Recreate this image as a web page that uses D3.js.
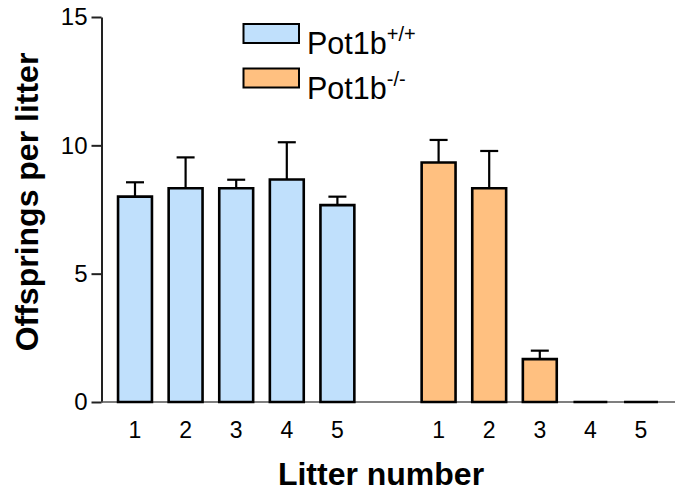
<!DOCTYPE html>
<html>
<head>
<meta charset="utf-8">
<script src="https://cdn.jsdelivr.net/npm/d3@7"></script>
<style>
  body { margin: 0; background: #fff; }
  svg { font-family: "Liberation Sans", Arial, sans-serif; }
</style>
</head>
<body>
<svg width="675" height="495"></svg>
<script>
// litter numbers and group means / SEM (upper error only)
const litters = ["1", "2", "3", "4", "5"];
const wtMean = [8.0, 8.33, 8.33, 8.67, 7.67];
const wtErr = [0.56, 1.2, 0.33, 1.45, 0.33];
const koMean = [9.33, 8.33, 1.67, 0, 0];
const koErr = [0.88, 1.45, 0.33, 0, 0];
const yTicks = [0, 5, 10, 15];
const groups = ["Pot1b", "Pot1b"];
const groupSup = ["+/+", "-/-"];
const colors = ["#c0e0fc", "#ffc080"];

const svg = d3.select("svg");

// one band per bar, with an empty slot between the two genotypes
const slots = [];
litters.forEach((l, i) => slots.push({ key: "wt" + l, label: l, v: wtMean[i], e: wtErr[i], g: 0 }));
slots.push({ key: "gap", label: "", v: null, e: 0, g: -1 });
litters.forEach((l, i) => slots.push({ key: "ko" + l, label: l, v: koMean[i], e: koErr[i], g: 1 }));

const x = d3.scaleBand()
  .domain(slots.map(d => d.key))
  .range([109.7, 666.3])
  .paddingInner(0.33)
  .paddingOuter(0.165);

const y = d3.scaleLinear().domain([0, 15]).range([402, 17]);

const axisX = 101.5;

// y axis
svg.append("g")
  .attr("transform", `translate(${axisX},0)`)
  .call(d3.axisLeft(y).tickValues(yTicks).tickSize(10).tickSizeOuter(0).tickPadding(4))
  .call(g => g.select(".domain").attr("stroke", "#222").attr("stroke-width", 2))
  .call(g => g.selectAll(".tick line").attr("stroke", "#222").attr("stroke-width", 2))
  .call(g => g.selectAll("text").style("font-size", "24px").attr("fill", "#000")
    .style("font-family", "Liberation Sans, Arial, sans-serif"));

// x labels
svg.append("g")
  .attr("transform", `translate(0,${y(0)})`)
  .call(d3.axisBottom(x).tickSize(0).tickPadding(19.5).tickFormat(k => slots.find(s => s.key === k).label))
  .call(g => g.select(".domain").remove())
  .call(g => g.selectAll("text").style("font-size", "23px").attr("fill", "#000")
    .style("font-family", "Liberation Sans, Arial, sans-serif"));

// baseline
svg.append("line")
  .attr("x1", axisX).attr("x2", 675)
  .attr("y1", y(0)).attr("y2", y(0))
  .attr("stroke", "#555").attr("stroke-width", 1.6);

const bars = slots.filter(d => d.v !== null);

// error bars (upper only)
const eb = svg.append("g").attr("stroke", "#000").attr("stroke-width", 2.2).attr("fill", "none");
bars.filter(d => d.e > 0).forEach(d => {
  const cx = x(d.key) + x.bandwidth() / 2;
  eb.append("line").attr("x1", cx).attr("x2", cx).attr("y1", y(d.v)).attr("y2", y(d.v + d.e));
  eb.append("line").attr("x1", cx - 9).attr("x2", cx + 9).attr("y1", y(d.v + d.e)).attr("y2", y(d.v + d.e));
});

// bars as paths so zero-height bars still show a line
svg.append("g")
  .selectAll("path")
  .data(bars)
  .join("path")
    .attr("d", d => {
      const x0 = x(d.key), x1 = x0 + x.bandwidth();
      return `M${x0},${y(0)}V${y(d.v)}H${x1}V${y(0)}Z`;
    })
    .attr("fill", d => colors[d.g])
    .attr("stroke", "#000")
    .attr("stroke-width", 2.6);

// legend
const legend = svg.append("g");
const legY = [24, 68.5];
groups.forEach((name, i) => {
  legend.append("rect")
    .attr("x", 243.5).attr("y", legY[i])
    .attr("width", 55.5).attr("height", 19)
    .attr("fill", colors[i]).attr("stroke", "#000").attr("stroke-width", 2);
  const t = legend.append("text")
    .attr("x", 307).attr("y", legY[i] + 30)
    .attr("font-size", 30.5).attr("fill", "#000");
  t.append("tspan").text(name);
  t.append("tspan").attr("font-size", 20).attr("dy", -13).text(groupSup[i]);
});

// axis titles
svg.append("text")
  .attr("x", 381).attr("y", 485)
  .attr("text-anchor", "middle")
  .attr("font-size", 32).attr("font-weight", "bold")
  .text("Litter number");

svg.append("text")
  .attr("transform", "translate(38,202) rotate(-90)")
  .attr("text-anchor", "middle")
  .attr("font-size", 32).attr("font-weight", "bold")
  .text("Offsprings per litter");
</script>
</body>
</html>
